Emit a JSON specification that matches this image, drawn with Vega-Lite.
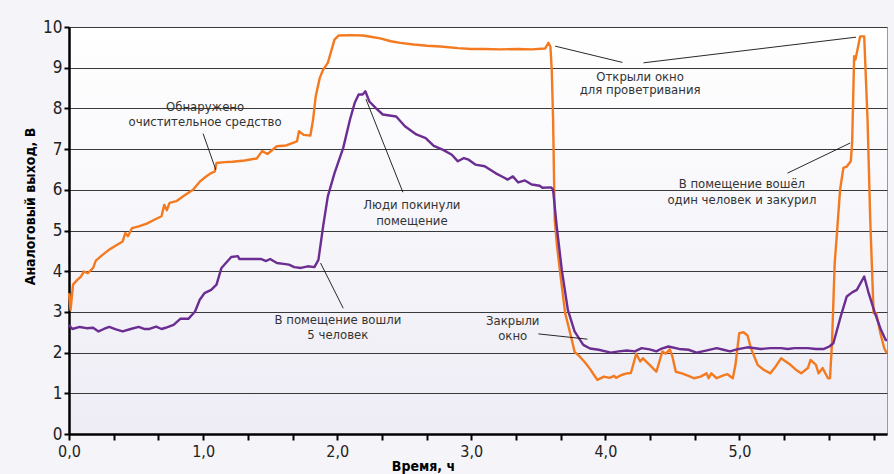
{
  "$schema": "https://vega.github.io/schema/vega-lite/v6.json",
  "width": 818,
  "height": 407,
  "autosize": {"type": "none"},
  "padding": {"left": 69, "top": 27, "right": 7, "bottom": 40},
  "background": "#f5f4f9",
  "config": {
    "font": "Liberation Sans Narrow, DejaVu Sans Condensed, sans-serif",
    "view": {
      "stroke": "#9a9a9a",
      "strokeWidth": 1,
      "fill": {"gradient": "linear", "x1": 0, "y1": 0, "x2": 0, "y2": 1, "stops": [{"offset": 0, "color": "#ffffff"}, {"offset": 1, "color": "#eeecf5"}]}
    }
  },
  "datasets": {
    "series": [
      {"sensor": "a", "t": 0.0, "v": 3.46}, {"sensor": "a", "t": 0.012, "v": 3.05}, {"sensor": "a", "t": 0.03, "v": 3.67}, {"sensor": "a", "t": 0.06, "v": 3.78}, {"sensor": "a", "t": 0.09, "v": 3.87}, {"sensor": "a", "t": 0.11, "v": 3.99}, {"sensor": "a", "t": 0.14, "v": 3.95}, {"sensor": "a", "t": 0.18, "v": 4.08}, {"sensor": "a", "t": 0.2, "v": 4.26}, {"sensor": "a", "t": 0.25, "v": 4.4}, {"sensor": "a", "t": 0.3, "v": 4.53}, {"sensor": "a", "t": 0.35, "v": 4.63}, {"sensor": "a", "t": 0.4, "v": 4.73}, {"sensor": "a", "t": 0.42, "v": 4.94}, {"sensor": "a", "t": 0.44, "v": 4.86}, {"sensor": "a", "t": 0.47, "v": 5.06}, {"sensor": "a", "t": 0.52, "v": 5.1}, {"sensor": "a", "t": 0.58, "v": 5.17}, {"sensor": "a", "t": 0.64, "v": 5.27}, {"sensor": "a", "t": 0.69, "v": 5.35}, {"sensor": "a", "t": 0.71, "v": 5.63}, {"sensor": "a", "t": 0.73, "v": 5.5}, {"sensor": "a", "t": 0.75, "v": 5.68}, {"sensor": "a", "t": 0.8, "v": 5.72}, {"sensor": "a", "t": 0.86, "v": 5.86}, {"sensor": "a", "t": 0.925, "v": 6.0}, {"sensor": "a", "t": 0.975, "v": 6.2}, {"sensor": "a", "t": 1.02, "v": 6.32}, {"sensor": "a", "t": 1.06, "v": 6.41}, {"sensor": "a", "t": 1.087, "v": 6.45}, {"sensor": "a", "t": 1.1, "v": 6.66}, {"sensor": "a", "t": 1.16, "v": 6.68}, {"sensor": "a", "t": 1.22, "v": 6.69}, {"sensor": "a", "t": 1.31, "v": 6.72}, {"sensor": "a", "t": 1.4, "v": 6.77}, {"sensor": "a", "t": 1.44, "v": 6.95}, {"sensor": "a", "t": 1.48, "v": 6.88}, {"sensor": "a", "t": 1.55, "v": 7.07}, {"sensor": "a", "t": 1.62, "v": 7.09}, {"sensor": "a", "t": 1.7, "v": 7.19}, {"sensor": "a", "t": 1.715, "v": 7.44}, {"sensor": "a", "t": 1.75, "v": 7.35}, {"sensor": "a", "t": 1.8, "v": 7.33}, {"sensor": "a", "t": 1.82, "v": 7.72}, {"sensor": "a", "t": 1.84, "v": 8.3}, {"sensor": "a", "t": 1.87, "v": 8.75}, {"sensor": "a", "t": 1.895, "v": 8.95}, {"sensor": "a", "t": 1.93, "v": 9.12}, {"sensor": "a", "t": 1.98, "v": 9.69}, {"sensor": "a", "t": 2.01, "v": 9.79}, {"sensor": "a", "t": 2.1, "v": 9.8}, {"sensor": "a", "t": 2.19, "v": 9.79}, {"sensor": "a", "t": 2.25, "v": 9.76}, {"sensor": "a", "t": 2.32, "v": 9.72}, {"sensor": "a", "t": 2.4, "v": 9.65}, {"sensor": "a", "t": 2.47, "v": 9.61}, {"sensor": "a", "t": 2.57, "v": 9.57}, {"sensor": "a", "t": 2.67, "v": 9.54}, {"sensor": "a", "t": 2.77, "v": 9.52}, {"sensor": "a", "t": 2.9, "v": 9.48}, {"sensor": "a", "t": 3.0, "v": 9.46}, {"sensor": "a", "t": 3.1, "v": 9.46}, {"sensor": "a", "t": 3.21, "v": 9.45}, {"sensor": "a", "t": 3.35, "v": 9.46}, {"sensor": "a", "t": 3.45, "v": 9.45}, {"sensor": "a", "t": 3.55, "v": 9.47}, {"sensor": "a", "t": 3.575, "v": 9.61}, {"sensor": "a", "t": 3.59, "v": 9.52}, {"sensor": "a", "t": 3.6, "v": 8.95}, {"sensor": "a", "t": 3.61, "v": 7.72}, {"sensor": "a", "t": 3.622, "v": 5.26}, {"sensor": "a", "t": 3.64, "v": 4.6}, {"sensor": "a", "t": 3.66, "v": 4.03}, {"sensor": "a", "t": 3.7, "v": 2.97}, {"sensor": "a", "t": 3.75, "v": 2.31}, {"sensor": "a", "t": 3.77, "v": 2.02}, {"sensor": "a", "t": 3.81, "v": 1.9}, {"sensor": "a", "t": 3.85, "v": 1.75}, {"sensor": "a", "t": 3.885, "v": 1.6}, {"sensor": "a", "t": 3.915, "v": 1.45}, {"sensor": "a", "t": 3.94, "v": 1.33}, {"sensor": "a", "t": 3.99, "v": 1.41}, {"sensor": "a", "t": 4.03, "v": 1.38}, {"sensor": "a", "t": 4.065, "v": 1.43}, {"sensor": "a", "t": 4.08, "v": 1.38}, {"sensor": "a", "t": 4.12, "v": 1.45}, {"sensor": "a", "t": 4.16, "v": 1.49}, {"sensor": "a", "t": 4.19, "v": 1.5}, {"sensor": "a", "t": 4.23, "v": 1.97}, {"sensor": "a", "t": 4.26, "v": 1.78}, {"sensor": "a", "t": 4.28, "v": 1.86}, {"sensor": "a", "t": 4.33, "v": 1.7}, {"sensor": "a", "t": 4.38, "v": 1.53}, {"sensor": "a", "t": 4.4, "v": 1.75}, {"sensor": "a", "t": 4.425, "v": 2.03}, {"sensor": "a", "t": 4.45, "v": 1.97}, {"sensor": "a", "t": 4.48, "v": 2.08}, {"sensor": "a", "t": 4.5, "v": 1.9}, {"sensor": "a", "t": 4.525, "v": 1.53}, {"sensor": "a", "t": 4.57, "v": 1.49}, {"sensor": "a", "t": 4.62, "v": 1.43}, {"sensor": "a", "t": 4.66, "v": 1.37}, {"sensor": "a", "t": 4.71, "v": 1.41}, {"sensor": "a", "t": 4.755, "v": 1.49}, {"sensor": "a", "t": 4.77, "v": 1.37}, {"sensor": "a", "t": 4.79, "v": 1.49}, {"sensor": "a", "t": 4.83, "v": 1.37}, {"sensor": "a", "t": 4.87, "v": 1.43}, {"sensor": "a", "t": 4.91, "v": 1.47}, {"sensor": "a", "t": 4.95, "v": 1.37}, {"sensor": "a", "t": 4.97, "v": 1.7}, {"sensor": "a", "t": 4.998, "v": 2.48}, {"sensor": "a", "t": 5.03, "v": 2.5}, {"sensor": "a", "t": 5.06, "v": 2.42}, {"sensor": "a", "t": 5.085, "v": 2.11}, {"sensor": "a", "t": 5.135, "v": 1.7}, {"sensor": "a", "t": 5.18, "v": 1.58}, {"sensor": "a", "t": 5.23, "v": 1.49}, {"sensor": "a", "t": 5.27, "v": 1.66}, {"sensor": "a", "t": 5.31, "v": 1.86}, {"sensor": "a", "t": 5.345, "v": 1.78}, {"sensor": "a", "t": 5.38, "v": 1.7}, {"sensor": "a", "t": 5.42, "v": 1.58}, {"sensor": "a", "t": 5.46, "v": 1.49}, {"sensor": "a", "t": 5.51, "v": 1.62}, {"sensor": "a", "t": 5.53, "v": 1.82}, {"sensor": "a", "t": 5.57, "v": 1.7}, {"sensor": "a", "t": 5.59, "v": 1.49}, {"sensor": "a", "t": 5.62, "v": 1.62}, {"sensor": "a", "t": 5.66, "v": 1.37}, {"sensor": "a", "t": 5.675, "v": 1.37}, {"sensor": "a", "t": 5.69, "v": 2.25}, {"sensor": "a", "t": 5.71, "v": 4.2}, {"sensor": "a", "t": 5.725, "v": 4.85}, {"sensor": "a", "t": 5.75, "v": 6.0}, {"sensor": "a", "t": 5.775, "v": 6.54}, {"sensor": "a", "t": 5.8, "v": 6.57}, {"sensor": "a", "t": 5.83, "v": 6.7}, {"sensor": "a", "t": 5.84, "v": 7.15}, {"sensor": "a", "t": 5.855, "v": 9.28}, {"sensor": "a", "t": 5.865, "v": 9.2}, {"sensor": "a", "t": 5.9, "v": 9.77}, {"sensor": "a", "t": 5.93, "v": 9.77}, {"sensor": "a", "t": 5.955, "v": 7.72}, {"sensor": "a", "t": 5.975, "v": 5.26}, {"sensor": "a", "t": 6.0, "v": 2.97}, {"sensor": "a", "t": 6.02, "v": 2.97}, {"sensor": "a", "t": 6.05, "v": 2.48}, {"sensor": "a", "t": 6.08, "v": 2.1}, {"sensor": "a", "t": 6.1, "v": 1.98},
      {"sensor": "b", "t": 0.0, "v": 2.68}, {"sensor": "b", "t": 0.025, "v": 2.58}, {"sensor": "b", "t": 0.08, "v": 2.63}, {"sensor": "b", "t": 0.13, "v": 2.6}, {"sensor": "b", "t": 0.18, "v": 2.61}, {"sensor": "b", "t": 0.22, "v": 2.52}, {"sensor": "b", "t": 0.26, "v": 2.58}, {"sensor": "b", "t": 0.3, "v": 2.63}, {"sensor": "b", "t": 0.35, "v": 2.57}, {"sensor": "b", "t": 0.4, "v": 2.52}, {"sensor": "b", "t": 0.46, "v": 2.58}, {"sensor": "b", "t": 0.52, "v": 2.63}, {"sensor": "b", "t": 0.56, "v": 2.58}, {"sensor": "b", "t": 0.6, "v": 2.58}, {"sensor": "b", "t": 0.65, "v": 2.64}, {"sensor": "b", "t": 0.69, "v": 2.58}, {"sensor": "b", "t": 0.72, "v": 2.61}, {"sensor": "b", "t": 0.78, "v": 2.68}, {"sensor": "b", "t": 0.83, "v": 2.83}, {"sensor": "b", "t": 0.89, "v": 2.83}, {"sensor": "b", "t": 0.94, "v": 3.01}, {"sensor": "b", "t": 0.975, "v": 3.3}, {"sensor": "b", "t": 1.01, "v": 3.46}, {"sensor": "b", "t": 1.06, "v": 3.54}, {"sensor": "b", "t": 1.1, "v": 3.67}, {"sensor": "b", "t": 1.137, "v": 4.08}, {"sensor": "b", "t": 1.17, "v": 4.2}, {"sensor": "b", "t": 1.21, "v": 4.35}, {"sensor": "b", "t": 1.26, "v": 4.37}, {"sensor": "b", "t": 1.27, "v": 4.3}, {"sensor": "b", "t": 1.35, "v": 4.3}, {"sensor": "b", "t": 1.43, "v": 4.3}, {"sensor": "b", "t": 1.47, "v": 4.25}, {"sensor": "b", "t": 1.5, "v": 4.3}, {"sensor": "b", "t": 1.55, "v": 4.2}, {"sensor": "b", "t": 1.6, "v": 4.18}, {"sensor": "b", "t": 1.64, "v": 4.16}, {"sensor": "b", "t": 1.68, "v": 4.1}, {"sensor": "b", "t": 1.73, "v": 4.08}, {"sensor": "b", "t": 1.78, "v": 4.12}, {"sensor": "b", "t": 1.83, "v": 4.1}, {"sensor": "b", "t": 1.86, "v": 4.28}, {"sensor": "b", "t": 1.895, "v": 5.1}, {"sensor": "b", "t": 1.93, "v": 5.84}, {"sensor": "b", "t": 1.98, "v": 6.41}, {"sensor": "b", "t": 2.045, "v": 7.03}, {"sensor": "b", "t": 2.095, "v": 7.72}, {"sensor": "b", "t": 2.13, "v": 8.13}, {"sensor": "b", "t": 2.16, "v": 8.34}, {"sensor": "b", "t": 2.19, "v": 8.34}, {"sensor": "b", "t": 2.21, "v": 8.42}, {"sensor": "b", "t": 2.24, "v": 8.17}, {"sensor": "b", "t": 2.29, "v": 8.0}, {"sensor": "b", "t": 2.34, "v": 7.85}, {"sensor": "b", "t": 2.44, "v": 7.8}, {"sensor": "b", "t": 2.505, "v": 7.56}, {"sensor": "b", "t": 2.59, "v": 7.36}, {"sensor": "b", "t": 2.66, "v": 7.27}, {"sensor": "b", "t": 2.72, "v": 7.08}, {"sensor": "b", "t": 2.79, "v": 6.98}, {"sensor": "b", "t": 2.855, "v": 6.86}, {"sensor": "b", "t": 2.9, "v": 6.7}, {"sensor": "b", "t": 2.945, "v": 6.78}, {"sensor": "b", "t": 2.98, "v": 6.74}, {"sensor": "b", "t": 3.03, "v": 6.62}, {"sensor": "b", "t": 3.1, "v": 6.58}, {"sensor": "b", "t": 3.18, "v": 6.41}, {"sensor": "b", "t": 3.25, "v": 6.29}, {"sensor": "b", "t": 3.27, "v": 6.25}, {"sensor": "b", "t": 3.31, "v": 6.33}, {"sensor": "b", "t": 3.35, "v": 6.18}, {"sensor": "b", "t": 3.4, "v": 6.23}, {"sensor": "b", "t": 3.45, "v": 6.13}, {"sensor": "b", "t": 3.51, "v": 6.1}, {"sensor": "b", "t": 3.53, "v": 6.05}, {"sensor": "b", "t": 3.595, "v": 6.06}, {"sensor": "b", "t": 3.61, "v": 6.0}, {"sensor": "b", "t": 3.637, "v": 5.1}, {"sensor": "b", "t": 3.675, "v": 4.03}, {"sensor": "b", "t": 3.72, "v": 3.05}, {"sensor": "b", "t": 3.77, "v": 2.52}, {"sensor": "b", "t": 3.835, "v": 2.19}, {"sensor": "b", "t": 3.885, "v": 2.1}, {"sensor": "b", "t": 3.95, "v": 2.07}, {"sensor": "b", "t": 4.04, "v": 2.0}, {"sensor": "b", "t": 4.1, "v": 2.03}, {"sensor": "b", "t": 4.16, "v": 2.05}, {"sensor": "b", "t": 4.22, "v": 2.03}, {"sensor": "b", "t": 4.27, "v": 2.11}, {"sensor": "b", "t": 4.33, "v": 2.08}, {"sensor": "b", "t": 4.38, "v": 2.03}, {"sensor": "b", "t": 4.42, "v": 2.1}, {"sensor": "b", "t": 4.47, "v": 2.15}, {"sensor": "b", "t": 4.55, "v": 2.09}, {"sensor": "b", "t": 4.62, "v": 2.07}, {"sensor": "b", "t": 4.68, "v": 2.0}, {"sensor": "b", "t": 4.75, "v": 2.05}, {"sensor": "b", "t": 4.83, "v": 2.11}, {"sensor": "b", "t": 4.88, "v": 2.07}, {"sensor": "b", "t": 4.93, "v": 2.03}, {"sensor": "b", "t": 4.98, "v": 2.08}, {"sensor": "b", "t": 5.06, "v": 2.13}, {"sensor": "b", "t": 5.16, "v": 2.09}, {"sensor": "b", "t": 5.23, "v": 2.11}, {"sensor": "b", "t": 5.31, "v": 2.11}, {"sensor": "b", "t": 5.36, "v": 2.09}, {"sensor": "b", "t": 5.41, "v": 2.11}, {"sensor": "b", "t": 5.51, "v": 2.11}, {"sensor": "b", "t": 5.57, "v": 2.09}, {"sensor": "b", "t": 5.63, "v": 2.09}, {"sensor": "b", "t": 5.67, "v": 2.15}, {"sensor": "b", "t": 5.7, "v": 2.23}, {"sensor": "b", "t": 5.755, "v": 2.89}, {"sensor": "b", "t": 5.8, "v": 3.38}, {"sensor": "b", "t": 5.84, "v": 3.48}, {"sensor": "b", "t": 5.875, "v": 3.54}, {"sensor": "b", "t": 5.93, "v": 3.87}, {"sensor": "b", "t": 5.96, "v": 3.5}, {"sensor": "b", "t": 6.01, "v": 2.97}, {"sensor": "b", "t": 6.055, "v": 2.56}, {"sensor": "b", "t": 6.09, "v": 2.31}, {"sensor": "b", "t": 6.1, "v": 2.31}
    ],
    "leaders": [
      {"t": 1.0, "v": 7.38, "t2": 1.095, "v2": 6.49},
      {"t": 2.214, "v": 8.23, "t2": 2.49, "v2": 5.94},
      {"t": 1.876, "v": 4.2, "t2": 2.045, "v2": 3.09},
      {"t": 3.5, "v": 2.46, "t2": 3.866, "v2": 2.33},
      {"t": 3.625, "v": 9.53, "t2": 4.127, "v2": 9.13},
      {"t": 4.284, "v": 9.12, "t2": 5.869, "v2": 9.75},
      {"t": 5.358, "v": 6.41, "t2": 5.826, "v2": 7.15}
    ],
    "notes": [
      {"t": 1.015, "v": 8.03, "label": "Обнаружено"},
      {"t": 1.015, "v": 7.67, "label": "очистительное средство"},
      {"t": 2.557, "v": 5.62, "label": "Люди покинули"},
      {"t": 2.557, "v": 5.24, "label": "помещение"},
      {"t": 2.005, "v": 2.81, "label": "В помещение вошли"},
      {"t": 2.005, "v": 2.44, "label": "5 человек"},
      {"t": 3.309, "v": 2.77, "label": "Закрыли"},
      {"t": 3.309, "v": 2.4, "label": "окно"},
      {"t": 4.259, "v": 8.78, "label": "Открыли окно"},
      {"t": 4.259, "v": 8.44, "label": "для проветривания"},
      {"t": 5.018, "v": 6.15, "label": "В помещение вошёл"},
      {"t": 5.018, "v": 5.76, "label": "один человек и закурил"}
    ]
  },
  "layer": [
    {
      "data": {"name": "series"},
      "mark": {"type": "line", "strokeWidth": 2.4, "strokeJoin": "round"},
      "encoding": {
        "x": {
          "field": "t", "type": "quantitative",
          "scale": {"domain": [0, 6.1], "nice": false, "zero": false},
          "axis": {
            "title": "Время, ч",
            "values": [0, 0.0833, 0.1667, 0.25, 0.3333, 0.4167, 0.5, 0.5833, 0.6667, 0.75, 0.8333, 0.9167, 1, 1.0833, 1.1667, 1.25, 1.3333, 1.4167, 1.5, 1.5833, 1.6667, 1.75, 1.8333, 1.9167, 2, 2.0833, 2.1667, 2.25, 2.3333, 2.4167, 2.5, 2.5833, 2.6667, 2.75, 2.8333, 2.9167, 3, 3.0833, 3.1667, 3.25, 3.3333, 3.4167, 3.5, 3.5833, 3.6667, 3.75, 3.8333, 3.9167, 4, 4.0833, 4.1667, 4.25, 4.3333, 4.4167, 4.5, 4.5833, 4.6667, 4.75, 4.8333, 4.9167, 5, 5.0833, 5.1667, 5.25, 5.3333, 5.4167, 5.5, 5.5833, 5.6667, 5.75, 5.8333, 5.9167, 6, 6.0833],
            "labelExpr": "datum.value % 1 === 0 && datum.value < 6 ? replace(format(datum.value, '.1f'), '.', ',') : ''",
            "labelFontSize": 16, "labelColor": "#222222", "labelPadding": 3,
            "labelOverlap": false, "labelBound": false, "labelFlush": false,
            "tickSize": 6, "tickWidth": 2, "tickColor": "#000000",
            "domainColor": "#000000", "domainWidth": 2.5,
            "grid": false,
            "titleFontSize": 14, "titleFontWeight": "bold", "titleColor": "#000000",
            "titleX": 354, "titleY": 32, "titleBaseline": "middle"
          }
        },
        "y": {
          "field": "v", "type": "quantitative",
          "scale": {"domain": [0, 10], "nice": false},
          "axis": {
            "title": "Аналоговый выход, В",
            "values": [0, 1, 2, 3, 4, 5, 6, 7, 8, 9, 10],
            "labelFontSize": 17, "labelColor": "#222222", "labelPadding": 2,
            "tickSize": 5, "tickWidth": 2, "tickColor": "#000000",
            "domainColor": "#000000", "domainWidth": 2.5,
            "grid": true, "gridColor": "#3a3a3a", "gridWidth": 1,
            "titleFontSize": 14, "titleFontWeight": "bold", "titleColor": "#000000",
            "titleX": -39, "titleY": 179, "titleBaseline": "middle"
          }
        },
        "color": {
          "field": "sensor", "type": "nominal",
          "scale": {"domain": ["a", "b"], "range": ["#f47a20", "#6b2d91"]},
          "legend": null
        }
      }
    },
    {
      "data": {"name": "leaders"},
      "mark": {"type": "rule", "color": "#111111", "strokeWidth": 0.9},
      "encoding": {
        "x": {"field": "t", "type": "quantitative"},
        "y": {"field": "v", "type": "quantitative"},
        "x2": {"field": "t2"},
        "y2": {"field": "v2"}
      }
    },
    {
      "data": {"name": "notes"},
      "mark": {"type": "text", "align": "center", "baseline": "middle", "fontSize": 13, "color": "#333333"},
      "encoding": {
        "x": {"field": "t", "type": "quantitative"},
        "y": {"field": "v", "type": "quantitative"},
        "text": {"field": "label"}
      }
    }
  ]
}
